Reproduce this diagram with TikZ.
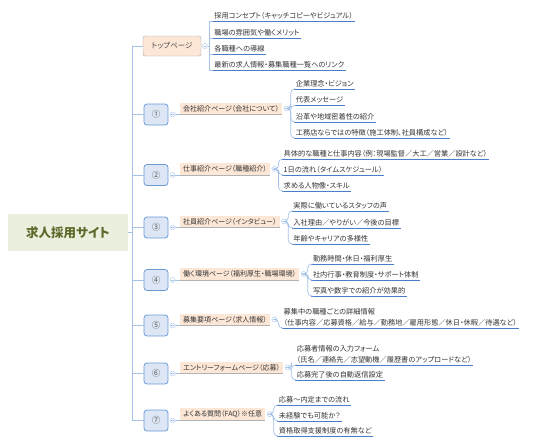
\documentclass[tikz,border=0pt]{standalone}
\usepackage{fontspec}
\setmainfont{Noto Sans CJK JP}[RawFeature=+palt]
\usetikzlibrary{positioning}
\definecolor{spine}{HTML}{A4C2E8}
\definecolor{uline}{HTML}{4A7EC7}
\definecolor{numfill}{HTML}{DCE6F4}
\definecolor{numdraw}{HTML}{6A9AD8}
\definecolor{pagefill}{HTML}{FCE6D6}
\definecolor{rootfill}{HTML}{EBEFDE}
\definecolor{roottext}{HTML}{5E6A2C}
\tikzset{
  root/.style   = { fill=rootfill, text=roottext, font=\fontsize{12.5}{14}\selectfont\bfseries,
    minimum width=120pt, minimum height=37pt, inner sep=0pt },
  topbox/.style = { draw=black!35, fill=pagefill, rounded corners=2pt, minimum width=58pt,
    minimum height=20pt, inner sep=1pt, font=\fontsize{7.5}{9}\selectfont, text=black!70 },
  numbox/.style = { draw=numdraw, thick, fill=numfill, rounded corners=3pt, minimum width=24pt,
    minimum height=21pt, inner sep=0pt, font=\fontsize{8.5}{10}\selectfont, text=black!65 },
  page/.style   = { fill=pagefill, anchor=south west, inner xsep=3pt, inner ysep=2.5pt,
    font=\fontsize{7}{8}\selectfont, text=black!80,
    append after command={(\tikzlastnode.south west) edge[draw=black!30, thick] (\tikzlastnode.south east)} },
  knob/.style   = { draw=spine, fill=white, circle, minimum size=5pt, inner sep=0pt,
    path picture={\draw[spine, line width=0.3pt] ([xshift=1.2pt]path picture bounding box.west)
      -- ([xshift=-1.2pt]path picture bounding box.east);} },
  kid/.style    = { anchor=south west, inner xsep=1.5pt, inner ysep=2pt, align=left,
    font=\fontsize{7.2}{10.5}\selectfont, text=black!80,
    append after command={(\tikzlastnode.south west) edge[draw=uline, line width=0.9pt] (\tikzlastnode.south east)} },
  conn/.style   = { draw=spine, line width=0.7pt },
  kidlink/.style = { conn, rounded corners=4pt }
}
\begin{document}
\begin{tikzpicture}[x=1pt,y=-1pt]
  \useasboundingbox (0,0) rectangle (536,445);
  \node[root] (r) at (68,232.5) {求人採用サイト};
  \coordinate (sp) at (132,232.5);
  \draw[conn] (r) -- (sp);

  % trunk boxes
  \node[topbox] (t0) at (172,46) {トップページ};
  \node[numbox] (n1) at (156,114.5) {①};
  \node[numbox] (n2) at (156,175) {②};
  \node[numbox] (n3) at (156,227.5) {③};
  \node[numbox] (n4) at (156,280) {④};
  \node[numbox] (n5) at (156,325.5) {⑤};
  \node[numbox] (n6) at (156,373.5) {⑥};
  \node[numbox] (n7) at (156,420.5) {⑦};
  \draw[conn] (sp) |- (t0);
  \draw[conn] (sp) |- (n1);
  \draw[conn] (sp) |- (n2);
  \draw[conn] (sp) |- (n3);
  \draw[conn] (sp) |- (n4);
  \draw[conn] (sp) |- (n5);
  \draw[conn] (sp) |- (n6);
  \draw[conn] (sp) |- (n7);

  % page labels
  \node[knob, right=1.5pt of n1] (a1) {};
  \node[knob, right=1.5pt of n2] (a2) {};
  \node[knob, right=1.5pt of n3] (a3) {};
  \node[knob, right=1.5pt of n4] (a4) {};
  \node[knob, right=1.5pt of n5] (a5) {};
  \node[knob, right=1.5pt of n6] (a6) {};
  \node[knob, right=1.5pt of n7] (a7) {};
  \node[page] (p1) at (180,114.5) {会社紹介ページ（会社について）};
  \node[page] (p2) at (180,175) {仕事紹介ページ（職種紹介）};
  \node[page] (p3) at (180,227.5) {社員紹介ページ（インタビュー）};
  \node[page] (p4) at (180,280) {働く環境ページ（福利厚生・職場環境）};
  \node[page] (p5) at (180,325.5) {募集要項ページ（求人情報）};
  \node[page] (p6) at (180,373.5) {エントリーフォームページ（応募）};
  \node[page] (p7) at (180,420.5) {よくある質問（FAQ）※任意};
  \path[conn] (a1) edge (p1.south west);
  \path[conn] (a2) edge (p2.south west);
  \path[conn] (a3) edge (p3.south west);
  \path[conn] (a4) edge (p4.south west);
  \path[conn] (a5) edge (p5.south west);
  \path[conn] (a6) edge (p6.south west);
  \path[conn] (a7) edge (p7.south west);

  % knobs before the leaves
  \node[knob, right=1pt of t0] (b0) {};
  \node[knob, right=1.5pt of p1] (b1) {};
  \node[knob, right=1.5pt of p2] (b2) {};
  \node[knob, right=1.5pt of p3] (b3) {};
  \node[knob, right=1.5pt of p4] (b4) {};
  \node[knob, right=1.5pt of p5] (b5) {};
  \node[knob, right=1.5pt of p6] (b6) {};
  \node[knob, right=1.5pt of p7] (b7) {};
  \coordinate[right=1.5pt of b0] (k0);
  \coordinate[right=1.5pt of b1] (k1);
  \coordinate[right=1.5pt of b2] (k2);
  \coordinate[right=1.5pt of b3] (k3);
  \coordinate[right=1.5pt of b4] (k4);
  \coordinate[right=1.5pt of b5] (k5);
  \coordinate[right=1.5pt of b6] (k6);
  \coordinate[right=1.5pt of b7] (k7);
  \coordinate[right=3.5pt of k0] (m0);
  \coordinate[right=3.5pt of k1] (m1);
  \coordinate[right=3.5pt of k2] (m2);
  \coordinate[right=3.5pt of k3] (m3);
  \coordinate[right=3.5pt of k4] (m4);
  \coordinate[right=3.5pt of k5] (m5);
  \coordinate[right=3.5pt of k6] (m6);
  \coordinate[right=3.5pt of k7] (m7);

  % leaves
  \node[kid] (c01) at (m0 |- 0,21.5) {採用コンセプト（キャッチコピーやビジュアル）};
  \node[kid] (c02) at (m0 |- 0,38) {職場の雰囲気や働くメリット};
  \node[kid] (c03) at (m0 |- 0,54) {各職種への導線};
  \node[kid] (c04) at (m0 |- 0,70) {最新の求人情報・募集職種一覧へのリンク};
  \node[kid] (c11) at (m1 |- 0,89) {企業理念・ビジョン};
  \node[kid] (c12) at (m1 |- 0,105.5) {代表メッセージ};
  \node[kid] (c13) at (m1 |- 0,122) {沿革や地域密着性の紹介};
  \node[kid] (c14) at (m1 |- 0,138) {工務店ならではの特徴（施工体制、社員構成など）};
  \node[kid] (c21) at (m2 |- 0,159) {具体的な職種と仕事内容（例：現場監督／大工／営業／設計など）};
  \node[kid] (c22) at (m2 |- 0,175) {1日の流れ（タイムスケジュール）};
  \node[kid] (c23) at (m2 |- 0,191) {求める人物像・スキル};
  \node[kid] (c31) at (m3 |- 0,211) {実際に働いているスタッフの声};
  \node[kid] (c32) at (m3 |- 0,228) {入社理由／やりがい／今後の目標};
  \node[kid] (c33) at (m3 |- 0,244) {年齢やキャリアの多様性};
  \node[kid] (c41) at (m4 |- 0,264) {勤務時間・休日・福利厚生};
  \node[kid] (c42) at (m4 |- 0,280) {社内行事・教育制度・サポート体制};
  \node[kid] (c43) at (m4 |- 0,296) {写真や数字での紹介が効果的};
  \node[kid] (c51) at (m5 |- 0,328) {募集中の職種ごとの詳細情報\\（仕事内容／応募資格／給与／勤務地／雇用形態／休日・休暇／待遇など）};
  \node[kid] (c61) at (m6 |- 0,365) {応募者情報の入力フォーム\\（氏名／連絡先／志望動機／履歴書のアップロードなど）};
  \node[kid] (c62) at (m6 |- 0,380) {応募完了後の自動返信設定};
  \node[kid] (c71) at (m7 |- 0,405) {応募〜内定までの流れ};
  \node[kid] (c72) at (m7 |- 0,421) {未経験でも可能か？};
  \node[kid] (c73) at (m7 |- 0,436) {資格取得支援制度の有無など};

  \draw[conn] (b0) -- (k0) |- (c01.south west);
  \draw[conn] (k0) |- (c02.south west);
  \draw[conn] (k0) |- (c03.south west);
  \draw[conn] (k0) |- (c04.south west);
  \draw[kidlink] (b1) -- (k1) |- (c11.south west);
  \draw[kidlink] (b1) -- (k1) |- (c12.south west);
  \draw[kidlink] (b1) -- (k1) |- (c13.south west);
  \draw[kidlink] (b1) -- (k1) |- (c14.south west);
  \draw[kidlink] (b2) -- (k2) |- (c21.south west);
  \draw[kidlink] (b2) -- (k2) |- (c22.south west);
  \draw[kidlink] (b2) -- (k2) |- (c23.south west);
  \draw[kidlink] (b3) -- (k3) |- (c31.south west);
  \draw[kidlink] (b3) -- (k3) |- (c32.south west);
  \draw[kidlink] (b3) -- (k3) |- (c33.south west);
  \draw[kidlink] (b4) -- (k4) |- (c41.south west);
  \draw[kidlink] (b4) -- (k4) |- (c42.south west);
  \draw[kidlink] (b4) -- (k4) |- (c43.south west);
  \draw[kidlink] (b5) -- (k5) |- (c51.south west);
  \draw[kidlink] (b6) -- (k6) |- (c61.south west);
  \draw[kidlink] (b6) -- (k6) |- (c62.south west);
  \draw[kidlink] (b7) -- (k7) |- (c71.south west);
  \draw[kidlink] (b7) -- (k7) |- (c72.south west);
  \draw[kidlink] (b7) -- (k7) |- (c73.south west);
\end{tikzpicture}
\end{document}
